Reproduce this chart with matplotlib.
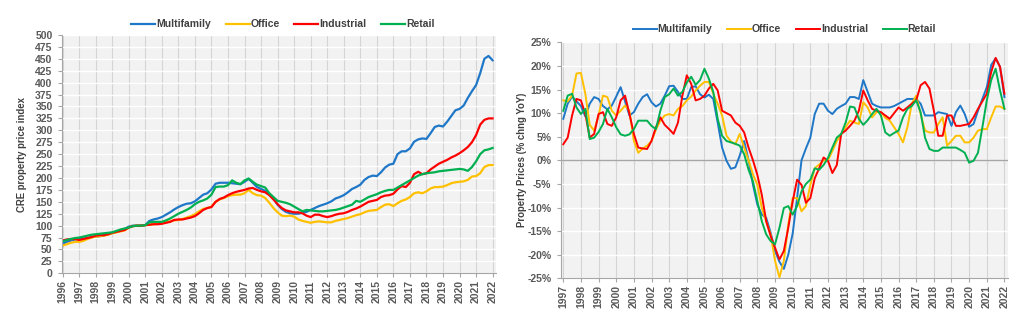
import numpy as np
import matplotlib.pyplot as plt

# quarterly price index, 1996Q1 .. 2022Q1
idx_multifamily = [62, 66, 69, 71, 72, 73, 74, 76, 77, 78, 80, 82, 85, 87, 89, 93,
                   98, 100, 100, 100, 101, 110, 113, 115, 118, 123, 128, 134, 139, 143, 146, 147,
                   151, 158, 165, 168, 176, 188, 190, 190, 190, 189, 188, 187, 192, 198, 190, 181,
                   177, 173, 166, 157, 144, 135, 129, 126, 125, 125, 127, 129, 133, 137, 141, 144,
                   147, 151, 157, 160, 164, 170, 177, 181, 186, 196, 202, 205, 204, 212, 222, 228,
                   230, 250, 256, 256, 262, 276, 281, 283, 282, 294, 307, 310, 308, 318, 330, 342,
                   345, 352, 368, 382, 395, 420, 450, 456, 447]
idx_office = [58, 61, 64, 66, 66, 68, 72, 75, 77, 78, 79, 81, 84, 86, 88, 90,
              96, 99, 100, 100, 101, 102, 103, 104, 105, 107, 109, 111, 112, 114, 117, 120,
              124, 130, 135, 137, 140, 150, 155, 158, 162, 164, 165, 165, 168, 175, 168, 164,
              163, 158, 148, 137, 128, 121, 120, 121, 119, 113, 110, 108, 106, 108, 109, 108,
              107, 107, 110, 112, 114, 116, 119, 122, 124, 128, 131, 132, 133, 139, 144, 145,
              141, 147, 152, 155, 160, 168, 170, 168, 172, 178, 181, 181, 182, 185, 189, 191,
              192, 193, 196, 203, 204, 210, 223, 227, 227]
idx_industrial = [69, 71, 72, 72, 70, 72, 74, 76, 79, 80, 80, 82, 85, 87, 89, 91,
                  96, 99, 100, 100, 101, 102, 103, 103, 104, 106, 108, 112, 113, 113, 115, 117,
                  120, 126, 133, 137, 139, 150, 156, 159, 164, 168, 171, 173, 175, 178, 179, 175,
                  172, 170, 164, 155, 145, 137, 132, 130, 128, 128, 126, 121, 118, 123, 123, 120,
                  118, 120, 123, 125, 126, 129, 133, 136, 140, 145, 150, 152, 154, 160, 163, 164,
                  167, 176, 183, 181, 190, 208, 213, 208, 210, 218, 224, 230, 234, 238, 243, 247,
                  252, 258, 265, 275, 290, 312, 322, 325, 325]
idx_retail = [67, 70, 72, 74, 75, 77, 79, 81, 82, 83, 84, 85, 86, 89, 92, 94,
              96, 99, 100, 100, 101, 107, 108, 108, 108, 111, 115, 120, 125, 129, 133, 138,
              145, 150, 153, 157, 165, 181, 182, 182, 185, 195, 190, 187, 195, 199, 192, 186,
              183, 180, 168, 160, 152, 150, 148, 145, 140, 135, 130, 133, 132, 131, 130, 130,
              131, 132, 133, 135, 138, 141, 144, 152, 150, 155, 160, 163, 166, 170, 173, 175,
              175, 180, 185, 190, 195, 200, 205, 208, 210, 211, 212, 214, 215, 216, 217, 218,
              219, 218, 215, 223, 235, 250, 258, 260, 263]

# quarterly YoY change (%), 1997Q1 .. 2022Q1
yoy_multifamily = [8.8, 12.0, 13.5, 12.5, 11.5, 9.3, 12.0, 13.4, 13.0, 11.5, 10.8, 11.6,
                   13.5, 15.5, 12.5, 9.5, 10.2, 12.0, 13.4, 14.0, 12.3, 11.4, 12.0, 13.7,
                   15.7, 15.8, 14.5, 13.0, 13.0, 15.5, 15.7, 14.0, 13.3, 13.9, 13.0, 8.0,
                   2.7, -0.1, -1.8, -1.5, 1.0, 4.1, 0.0, -5.2, -9.4, -11.5, -12.2, -15.3,
                   -19.2, -21.5, -23.0, -20.0, -15.5, -8.0, 0.0, 2.5, 4.8, 9.8, 12.0, 12.0,
                   10.5, 9.8, 10.9, 11.5, 12.0, 13.4, 13.4, 13.0, 17.0, 14.5, 12.0, 11.5,
                   11.2, 11.2, 11.2, 11.5, 12.0, 12.5, 13.0, 13.0, 13.0, 12.0, 9.5, 9.5,
                   9.5, 10.2, 10.0, 9.8, 7.3, 10.2, 11.6, 9.8, 7.1, 7.7, 10.5, 13.0,
                   15.5, 20.2, 21.6, 19.8, 13.4]
yoy_office = [12.7, 12.5, 13.7, 18.4, 18.5, 14.1, 7.5, 6.3, 9.5, 13.7, 13.4, 10.5,
              9.5, 10.5, 11.6, 10.5, 4.1, 1.6, 2.5, 3.1, 4.1, 6.5, 8.4, 9.5,
              9.8, 9.5, 10.9, 11.5, 12.7, 13.5, 14.8, 15.8, 16.6, 16.6, 14.1, 12.0,
              9.5, 5.2, 4.0, 3.4, 5.6, 2.7, 0.0, -3.0, -5.2, -10.1, -13.0, -15.7,
              -21.3, -24.8, -21.3, -13.6, -8.0, -8.0, -10.8, -9.7, -5.2, -1.7, -0.9, 0.0,
              0.0, 2.0, 4.1, 5.5, 7.0, 8.4, 8.0, 7.7, 12.3, 11.2, 9.1, 10.2,
              10.2, 9.0, 8.4, 7.0, 5.6, 3.8, 7.0, 12.0, 13.7, 9.8, 6.3, 5.9,
              5.9, 7.7, 9.1, 3.1, 4.1, 5.2, 5.2, 3.8, 3.8, 4.8, 6.3, 6.6,
              6.6, 9.1, 11.4, 11.4, 10.9]
yoy_industrial = [3.4, 4.8, 9.5, 13.0, 12.7, 9.8, 4.8, 5.6, 9.8, 10.2, 7.7, 7.3,
                  9.1, 12.7, 13.7, 9.8, 5.6, 2.7, 2.5, 2.4, 4.1, 7.0, 9.1, 7.5,
                  6.6, 5.6, 8.0, 13.7, 18.0, 16.2, 12.7, 13.0, 13.7, 15.2, 16.2, 14.8,
                  10.5, 10.0, 9.5, 8.0, 7.3, 5.9, 2.7, 0.0, -3.1, -7.3, -12.9, -16.0,
                  -18.5, -21.0, -19.2, -14.3, -8.7, -4.1, -5.2, -9.0, -8.0, -3.8, -1.7, 0.6,
                  -0.1, -2.7, -1.0, 5.6, 6.3, 7.3, 8.4, 10.5, 14.8, 12.7, 10.9, 10.5,
                  10.2, 9.5, 8.8, 10.0, 11.2, 10.5, 11.2, 12.0, 12.7, 15.9, 16.6, 15.2,
                  10.5, 5.2, 5.2, 9.5, 9.5, 7.3, 7.3, 7.5, 7.7, 9.1, 10.9, 12.5,
                  14.1, 18.7, 21.7, 19.8, 14.1]
yoy_retail = [10.5, 13.7, 14.1, 11.2, 9.8, 10.9, 4.5, 4.8, 6.0, 7.7, 10.9, 9.1,
              7.0, 5.5, 5.2, 5.5, 6.6, 8.4, 8.4, 8.4, 7.3, 6.6, 10.5, 13.4,
              14.0, 15.2, 13.7, 14.5, 16.5, 17.7, 16.0, 17.0, 19.4, 17.3, 14.5, 8.8,
              5.2, 4.1, 3.8, 3.5, 3.1, 1.3, -2.0, -4.5, -8.7, -12.9, -15.7, -17.1,
              -17.8, -14.3, -10.1, -9.7, -11.5, -9.7, -6.6, -5.0, -4.1, -1.7, -2.0, -1.0,
              0.5, 2.7, 4.8, 5.6, 8.0, 11.4, 11.2, 8.8, 7.5, 8.5, 9.8, 10.9,
              9.5, 5.9, 5.2, 5.8, 6.3, 9.1, 10.9, 11.5, 12.7, 10.2, 4.8, 2.4,
              2.0, 2.0, 2.7, 2.7, 2.7, 2.7, 2.2, 1.6, -0.5, -0.1, 1.6, 7.0,
              12.7, 17.0, 19.4, 14.8, 10.9]

names = ['Multifamily', 'Office', 'Industrial', 'Retail']
colors = ['#1f77c8', '#ffc000', '#ff0000', '#00b050']

t_idx = 1996 + np.arange(len(idx_multifamily)) / 4
t_yoy = 1997 + np.arange(len(yoy_multifamily)) / 4

plt.rcParams['font.family'] = ['Liberation Sans', 'DejaVu Sans']
tick_col = '#595959'
grid_v = '#d4d4d4'

fig = plt.figure(figsize=(10.24, 3.28), dpi=100)
ax1 = fig.add_axes([0.0608, 0.1667, 0.4235, 0.7266])
ax2 = fig.add_axes([0.548, 0.1515, 0.436, 0.7195])


def style(ax, years):
    ax.set_facecolor('#f2f2f2')
    ax.set_xticks(years)
    ax.set_xticklabels([str(y) for y in years], rotation=90)
    ax.grid(axis='y', color='white', linewidth=1.0)
    ax.grid(axis='x', color=grid_v, linewidth=0.8)
    ax.set_axisbelow(True)
    for s in ['top', 'right']:
        ax.spines[s].set_visible(False)
    for s in ['left', 'bottom']:
        ax.spines[s].set_color('#a6a6a6')
    ax.tick_params(colors='#a6a6a6', labelcolor=tick_col, length=3, labelsize=7.5, pad=2)
    ax.tick_params(axis='y', pad=4)
    for lab in ax.get_xticklabels() + ax.get_yticklabels():
        lab.set_fontweight('bold')


legend_kw = dict(ncol=4, frameon=False, prop={'weight': 'bold', 'size': 7.5},
                 handlelength=2.3, columnspacing=1.4, handletextpad=0.1,
                 labelcolor='#404040')

# left: index levels
for vals, n, c in zip([idx_multifamily, idx_office, idx_industrial, idx_retail], names, colors):
    ax1.plot(t_idx, vals, color=c, lw=1.6, label=n)
ax1.set_xlim(1995.98, 2022.2)
ax1.set_ylim(0, 500)
ax1.set_yticks(np.arange(0, 501, 25))
style(ax1, list(range(1996, 2023)))
ax1.set_ylabel('CRE property price index', fontsize=6.9, fontweight='bold', color='#404040')
ax1.yaxis.set_label_coords(-0.082, 0.5)
ax1.legend(loc='center', bbox_to_anchor=(0.509, 1.045), **legend_kw)

# right: year-over-year change
for vals, n, c in zip([yoy_multifamily, yoy_office, yoy_industrial, yoy_retail], names, colors):
    ax2.plot(t_yoy, vals, color=c, lw=1.4, label=n)
ax2.set_xlim(1996.88, 2022.18)
ax2.set_ylim(-25, 25)
ax2.set_yticks(np.arange(-25, 26, 5))
ax2.set_yticklabels(['{}%'.format(v) for v in range(-25, 26, 5)])
style(ax2, list(range(1997, 2023)))
ax2.axhline(0, color='#a6a6a6', lw=1.0, zorder=1.5)
zero_ax = ax2.secondary_xaxis(0.5)
zero_ax.xaxis.set_ticks_position('bottom')
zero_ax.set_xticks(list(range(1997, 2023)))
zero_ax.set_xticklabels([])
zero_ax.tick_params(length=3, colors='#a6a6a6', direction='out')
zero_ax.spines['bottom'].set_visible(False)
zero_ax.spines['top'].set_visible(False)
ax2.set_ylabel('Property Prices (% chng YoY)', fontsize=6.9, fontweight='bold', color='#404040')
ax2.yaxis.set_label_coords(-0.076, 0.5)
ax2.legend(loc='center', bbox_to_anchor=(0.5, 1.055), **legend_kw)

fig.savefig('out.png', dpi=100)
